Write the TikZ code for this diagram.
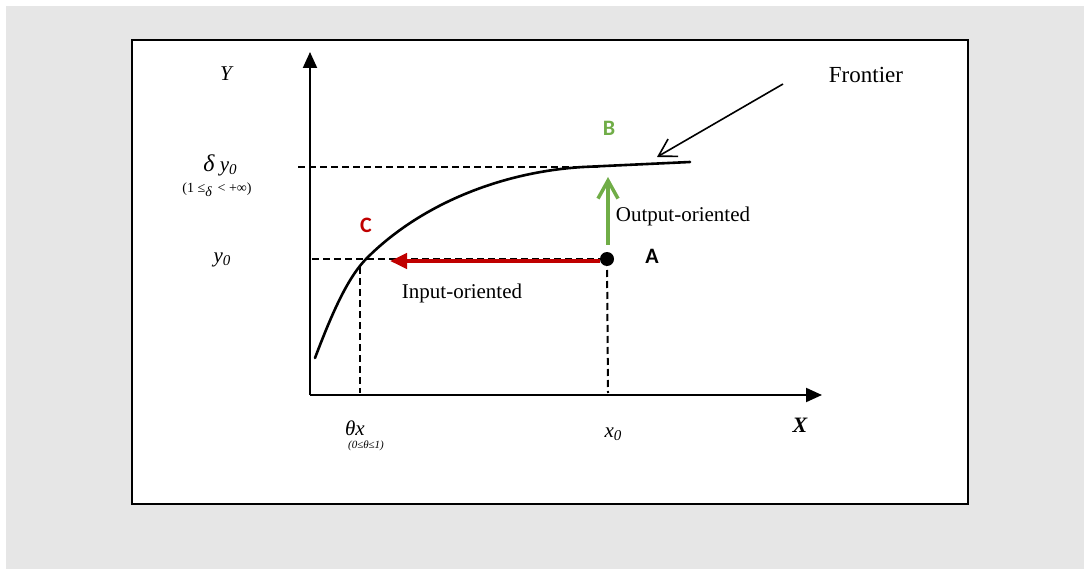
\documentclass[tikz,border=0pt]{standalone}
\usepackage{fontspec}
\setmainfont{Liberation Serif}
\newfontfamily\lblfont{Carlito}
\usetikzlibrary{arrows.meta}
\definecolor{bggray}{RGB}{230,230,230}
\definecolor{outgreen}{RGB}{112,173,71}
\definecolor{inred}{RGB}{192,0,0}
\tikzset{
  axisline/.style={line width=2pt,-{Triangle[length=16pt,width=14pt]}},
  guide/.style={line width=2pt,dash pattern=on 7pt off 4pt},
  txt/.style={font=\fontsize{21}{25}\selectfont,inner sep=0pt},
  itxt/.style={font=\fontsize{21}{25}\selectfont\itshape,inner sep=0pt},
  lbl/.style={font=\fontsize{22}{26}\selectfont\lblfont\bfseries,inner sep=0pt},
}
\begin{document}
\begin{tikzpicture}[x=1pt,y=-1pt]
\useasboundingbox (0,0) rectangle (1084,569);
\fill[bggray] (6,6) rectangle (1084,569);
\draw[line width=2pt,fill=white] (132,40) rectangle (968,504);
% coordinates
\coordinate (O) at (310,395);
\coordinate (Ytip) at (310,52);
\coordinate (Xtip) at (822,395);
\coordinate (A) at (607,259);
\coordinate (Cpt) at (365,259);
\coordinate (Dl) at (298,167);
\coordinate (Dr) at (598,167);
\coordinate (Yl) at (312,259);
\coordinate (Cb) at (360,393);
\coordinate (Ab) at (608,393);
\coordinate (Fe) at (657,157);
\coordinate (Fs) at (783,84);
\coordinate (Gs) at (608,245);
\coordinate (Gt) at (608,177);
\coordinate (Rs) at (600,261);
\coordinate (Rt) at (390,261);
% guides
\draw[guide] (Dl) -- (Dr);
\draw[guide] (Yl) -- (A);
\draw[guide] (Cpt) ++(-5,8) -- (Cb);
\draw[guide] (A) -- (Ab);
% axes
\draw[axisline] (O) -- (Ytip);
\draw[axisline] (O) -- (Xtip);
% frontier curve
\draw[line width=2.6pt,line cap=round] (315,358) .. controls (335,305) and (350,275) .. (367,258)
   .. controls (420,205) and (500,172) .. (583,167) -- (690,162);
% frontier pointer
\draw[line width=1.6pt,-{Straight Barb[length=17pt,width=20pt,line width=1.6pt]}] (Fs) -- (Fe);
% output oriented
\draw[outgreen,line width=4pt,-{Straight Barb[length=18pt,width=20pt,line width=3.5pt]}] (Gs) -- (Gt);
% input oriented
\draw[inred,line width=4pt,-{Triangle[length=17pt,width=15pt]}] (Rs) -- (Rt);
\fill (A) circle (7pt);
% labels
\node[itxt] (ylab) at (226,74) {Y};
\node[itxt] (dy) at (220,165) {{\fontsize{24}{26}\selectfont δ} y\raisebox{-3pt}{\fontsize{15}{16}\selectfont 0}};
\node[font=\fontsize{14}{16}\selectfont,inner sep=0pt] (drange) at (217,190) {(1 ≤\raisebox{-4pt}{\itshape δ} \,< +∞)};
\node[itxt] (y0) at (222,260) {y\raisebox{-3pt}{\fontsize{15}{16}\selectfont 0}};
\node[itxt] (tx) at (355,428) {θx};
\node[font=\fontsize{11}{13}\selectfont\itshape,inner sep=0pt] (trange) at (366,446) {(0≤θ≤1)};
\node[itxt] (x0) at (613,434) {x\raisebox{-3pt}{\fontsize{15}{16}\selectfont 0}};
\node[font=\fontsize{22}{26}\selectfont\bfseries\itshape,inner sep=0pt] (xlab) at (800,425) {X};
\node[font=\fontsize{23}{27}\selectfont,inner sep=0pt] (front) at (866,75) {Frontier};
\node[txt] (outo) at (683,216) {Output-oriented};
\node[txt] (ino) at (462,293) {Input-oriented};
\node[lbl,text=outgreen] (B) at (609,128) {B};
\node[lbl,text=inred] (C) at (366,225) {C};
\node[lbl] (Alab) at (652,256) {A};
\end{tikzpicture}
\end{document}
